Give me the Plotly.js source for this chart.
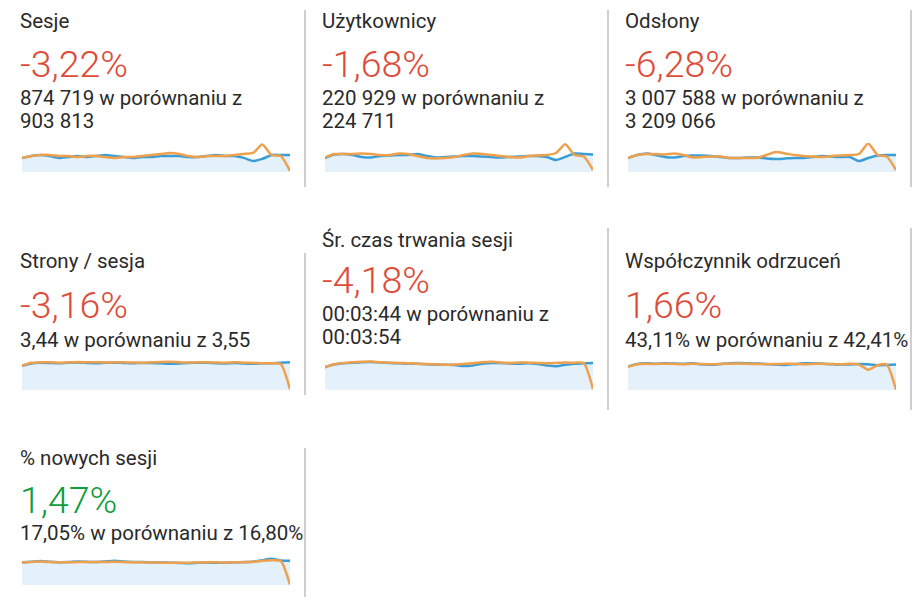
<!DOCTYPE html>
<html><head><meta charset="utf-8">
<script src="https://cdn.plot.ly/plotly-3.0.1.min.js"></script>
<style>html,body{margin:0;padding:0;background:#fff;overflow:hidden}#chart{width:912px;height:597px;}</style>
</head><body><div id="chart"></div>
<script>
const days = [1,2,3,4,5,6,7,8,9,10,11,12,13,14,15,16,17,18,19,20,21,22,23,24,25,26,27,28,29,30];

const titles = ['Sesje','Użytkownicy','Odsłony','Strony / sesja','Śr. czas trwania sesji','Współczynnik odrzuceń','% nowych sesji'];
const changes = ['-3,22%','-1,68%','-6,28%','-3,16%','-4,18%','1,66%','1,47%'];
const changeUp = [false,false,false,false,false,false,true];
const compareLines = [
  ['874 719 w porównaniu z','903 813'],
  ['220 929 w porównaniu z','224 711'],
  ['3 007 588 w porównaniu z','3 209 066'],
  ['3,44 w porównaniu z 3,55'],
  ['00:03:44 w porównaniu z','00:03:54'],
  ['43,11% w porównaniu z 42,41%'],
  ['17,05% w porównaniu z 16,80%']
];

const sesjeCur  = [27480,28520,29010,28460,27530,28040,28490,27960,28510,29030,28470,27990,27520,28030,27960,28540,28480,28510,27970,28020,28490,29040,28510,28470,27560,26010,27040,28990,29010,28980];
const sesjePrev = [27500,28480,29020,28990,28510,28470,28010,28530,28490,27980,27510,28020,27970,28510,29010,29480,30020,29510,28490,27990,28520,28480,28510,29020,29490,30010,34250,29000,28500,21000];
const uzytCur   = [6900,7420,7500,7350,7050,6980,7200,7280,7350,7340,7500,7200,6970,7050,7130,7200,7190,7120,7050,6980,7050,7130,7200,7210,7050,6600,7060,7570,7500,7430];
const uzytPrev  = [6980,7500,7490,7510,7570,7500,7350,7340,7580,7500,7200,6900,6830,6900,7050,7350,7570,7500,7350,7200,7050,6970,7200,7280,7350,7650,8950,7350,7120,5100];
const odsCur    = [98000,104000,107000,104000,100000,99000,102000,103000,103000,102000,100000,98000,98000,99000,99000,97000,96000,97000,98000,98000,100000,102000,101000,100000,100000,92000,98000,103000,104000,104000];
const odsPrev   = [98000,104000,106000,106000,105000,107000,104000,99000,100000,101000,101000,98000,98000,98000,98000,104000,110000,107000,104000,102000,101000,100000,102000,103000,104000,106000,127000,104000,101000,74000];
const stronyCur = [3.05,3.35,3.45,3.42,3.38,3.45,3.47,3.43,3.40,3.44,3.46,3.42,3.40,3.43,3.41,3.38,3.32,3.36,3.42,3.45,3.44,3.40,3.37,3.41,3.35,3.33,3.38,3.40,3.44,3.50];
const stronyPrev= [3.05,3.45,3.50,3.52,3.46,3.50,3.55,3.50,3.52,3.48,3.50,3.52,3.48,3.45,3.50,3.55,3.58,3.52,3.48,3.50,3.52,3.48,3.45,3.50,3.46,3.42,3.40,3.38,3.30,0.10];
const czasCur   = [190,212,222,228,232,233,230,226,222,220,218,215,212,210,208,200,205,218,225,224,220,218,222,216,205,198,210,218,222,226];
const czasPrev  = [192,215,226,232,236,238,232,228,226,222,218,216,214,210,212,216,222,232,236,230,226,230,228,225,222,226,230,228,224,8];
const odrzCur   = [38.5,42.5,43.5,43.0,43.8,43.2,42.8,43.5,42.0,41.2,42.5,43.8,44.0,43.5,43.2,42.5,41.5,41.0,42.2,43.5,43.8,43.0,42.2,41.5,41.8,42.5,42.0,40.5,41.0,41.5];
const odrzPrev  = [38.0,42.0,42.8,42.5,43.0,42.6,42.2,43.0,42.5,42.0,42.4,43.0,43.2,42.8,42.5,42.0,42.5,43.0,42.8,42.2,42.6,43.0,42.5,42.0,42.8,41.5,33.0,40.5,41.5,0.5];
const noweCur   = [16.6,17.0,17.6,17.0,16.7,16.8,17.2,17.0,16.8,17.3,17.8,17.2,16.9,16.8,16.6,16.5,16.4,16.2,16.0,16.3,16.5,16.3,16.4,16.6,16.8,17.0,18.2,19.2,18.0,17.8];
const nowePrev  = [16.5,16.9,17.2,16.8,16.6,16.7,16.8,16.9,16.8,16.9,17.0,16.8,16.6,16.6,16.5,16.4,16.4,16.3,16.4,16.5,16.6,16.6,16.5,16.6,16.7,17.0,17.8,18.2,17.6,0.3];

const currentSeries  = [sesjeCur, uzytCur, odsCur, stronyCur, czasCur, odrzCur, noweCur];
const previousSeries = [sesjePrev, uzytPrev, odsPrev, stronyPrev, czasPrev, odrzPrev, nowePrev];
const yRanges = [[20500,35000],[4800,9150],[70000,128000],[0,3.8],[0,250],[0,49],[0,22]];

// geometry in pixels
const W = 912, H = 597;
const panels = [
  {x:18,  title:21,  big:64,  sub:[98,121],  spark:[22,290,143,172],  sep:[305,10,187]},
  {x:320, title:21,  big:64,  sub:[98,121],  spark:[325,593,143,172], sep:[608,10,187]},
  {x:623, title:21,  big:64,  sub:[98,121],  spark:[628,896,143,172], sep:[911,10,187]},
  {x:18,  title:261, big:305, sub:[340],     spark:[22,290,360,390],  sep:[305,253,395]},
  {x:320, title:240, big:280, sub:[314,337], spark:[325,593,360,390], sep:[608,228,410]},
  {x:623, title:261, big:305, sub:[340],     spark:[628,896,360,390], sep:[911,228,410]},
  {x:18,  title:458, big:500, sub:[533],     spark:[22,290,555,585],  sep:[305,448,597]}
];

const FONT = 'Roboto, "Open Sans", sans-serif';
const TXT = '#2a2a2a', RED = '#dd4b39', GREEN = '#109d3a';
const BLUE = '#3b9dd8', ORANGE = '#eea04c', FILL = '#e4f0fa';

const traces = [], annotations = [], shapes = [];
const layout = {
  width: W, height: H, margin: {l:0,r:0,t:0,b:0},
  paper_bgcolor: '#fff', plot_bgcolor: 'rgba(0,0,0,0)',
  showlegend: false, hovermode: false
};

function ann(text, px, py, size, color, weight) {
  annotations.push({
    text: text, xref: 'paper', yref: 'paper', x: px / W, y: 1 - py / H,
    xanchor: 'left', yanchor: 'middle', showarrow: false,
    font: {family: FONT, size: size, color: color, weight: weight || 400}
  });
}

panels.forEach((p, i) => {
  const n = i + 1;
  const xa = 'xaxis' + (n === 1 ? '' : n), ya = 'yaxis' + (n === 1 ? '' : n);
  const [x0, x1, y0, y1] = p.spark;
  layout[xa] = {domain: [x0 / W, x1 / W], range: [days[0], days[days.length - 1]], visible: false, fixedrange: true};
  layout[ya] = {domain: [1 - y1 / H, 1 - y0 / H], range: yRanges[i], visible: false, fixedrange: true};
  const xr = 'x' + (n === 1 ? '' : n), yr = 'y' + (n === 1 ? '' : n);
  traces.push({x: days, y: currentSeries[i], xaxis: xr, yaxis: yr, type: 'scatter', mode: 'lines',
    fill: 'tozeroy', fillcolor: FILL, line: {color: BLUE, width: 2.5, shape: 'spline', smoothing: 0.6}});
  traces.push({x: days, y: previousSeries[i], xaxis: xr, yaxis: yr, type: 'scatter', mode: 'lines',
    line: {color: ORANGE, width: 2.5, shape: 'spline', smoothing: 0.6}});

  ann(titles[i], p.x, p.title, 20.5, TXT);
  ann(changes[i], p.x, p.big, 37.5, changeUp[i] ? GREEN : RED, 300);
  compareLines[i].forEach((t, k) => ann(t, p.x, p.sub[k], 20.5, TXT));

  shapes.push({type: 'line', xref: 'paper', yref: 'paper',
    x0: p.sep[0] / W, x1: p.sep[0] / W, y0: 1 - p.sep[1] / H, y1: 1 - p.sep[2] / H,
    line: {color: '#cfcfcf', width: 2}});
});

layout.annotations = annotations;
layout.shapes = shapes;
Plotly.newPlot('chart', traces, layout, {staticPlot: true, displayModeBar: false});
</script></body></html>
